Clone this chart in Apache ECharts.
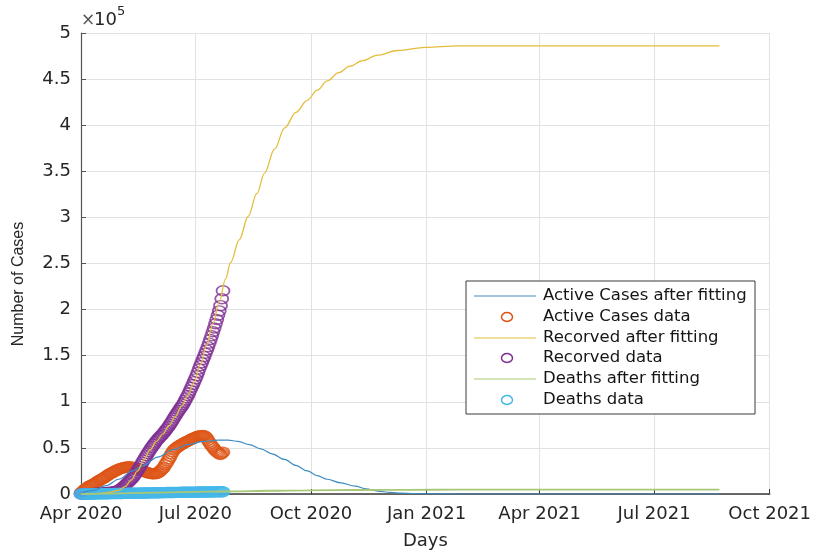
<!DOCTYPE html>
<html>
<head>
<meta charset="utf-8">
<script src="https://cdn.jsdelivr.net/npm/echarts@6/dist/echarts.min.js"></script>
<style>
  html, body { margin: 0; padding: 0; background: #fff; }
  #chart { width: 814px; height: 555px; }
</style>
</head>
<body>
<div id="chart"></div>
<script>
// Day 0 = 1 Apr 2020; x positions are days since that date.
const tickDays = [0, 91, 183, 275, 365, 456, 548];
const tickLabels = ['Apr 2020', 'Jul 2020', 'Oct 2020', 'Jan 2021', 'Apr 2021', 'Jul 2021', 'Oct 2021'];

// Daily observations, days 0..113
const activeData = [
  1000, 2200, 3500, 4800, 5800, 6600, 7800, 8800, 9400, 10100,
  10800, 11200, 12100, 13400, 14200, 15100, 15800, 16600, 17100, 18200,
  19200, 19800, 21100, 21900, 22600, 23200, 24100, 24700, 25600, 26200,
  26800, 27400, 27800, 28300, 28600, 29100, 28800, 29300, 29600, 29100,
  29400, 28900, 28500, 28000, 27600, 27100, 26800, 26200, 25900, 25200,
  24700, 24100, 23600, 23200, 22800, 22400, 22100, 21900, 22200, 21800,
  22400, 22900, 23600, 24800, 26200, 27600, 29100, 31800, 33600, 35900,
  38200, 40800, 43600, 45800, 47800, 49100, 50200, 51100, 52200, 52800,
  53800, 54600, 55300, 56100, 56600, 57400, 58100, 58900, 59600, 60200,
  60800, 61400, 62100, 62600, 62900, 63300, 62800, 63400, 63100, 62200,
  60400, 58300, 56200, 54100, 52100, 50600, 48900, 47200, 45800, 44700,
  43600, 42800, 44100, 45200
];
const recoveredData = [
  0, 100, 100, 200, 200, 300, 300, 400, 400, 500,
  500, 600, 700, 800, 900, 1000, 1100, 1200, 1300, 1400,
  1500, 1600, 1700, 1800, 2000, 2200, 2400, 2700, 3000, 3400,
  4000, 4800, 5800, 6800, 8000, 9200, 10600, 12000, 13300, 14800,
  16000, 17200, 19300, 21200, 23100, 25400, 27700, 29900, 32200, 34600,
  36800, 39200, 41500, 43800, 45800, 47900, 50000, 51900, 53800, 55600,
  57400, 59100, 60600, 62100, 63600, 64900, 66700, 68400, 70100, 71900,
  73800, 75800, 77900, 80100, 82400, 84600, 86700, 88900, 90900, 92900,
  94800, 96900, 99200, 101800, 104300, 106900, 109800, 112700, 115800, 118800,
  121900, 124900, 128300, 131800, 135600, 139100, 142400, 145800, 149200, 152700,
  156100, 159800, 163600, 167600, 171700, 175900, 180100, 184600, 189300, 193800,
  198600, 204300, 211800, 220500
];
const deathsData = [
  12, 18, 25, 31, 40, 50, 61, 73, 86, 98,
  112, 127, 143, 160, 176, 195, 214, 235, 255, 278,
  300, 322, 346, 370, 393, 418, 442, 468, 493, 520,
  546, 571, 598, 624, 651, 678, 703, 731, 758, 784,
  811, 838, 866, 892, 919, 946, 974, 1001, 1027, 1054,
  1080, 1108, 1135, 1161, 1188, 1214, 1241, 1267, 1293, 1320,
  1346, 1371, 1397, 1423, 1448, 1473, 1498, 1523, 1548, 1572,
  1596, 1621, 1645, 1669, 1692, 1716, 1739, 1762, 1785, 1808,
  1830, 1852, 1875, 1897, 1918, 1940, 1961, 1982, 2003, 2024,
  2044, 2065, 2085, 2105, 2124, 2144, 2163, 2182, 2201, 2220,
  2238, 2257, 2275, 2293, 2310, 2328, 2345, 2362, 2379, 2395,
  2412, 2428, 2444, 2460
];

// Fitted model curves (day, value)
const activeFitDays = [0, 10, 20, 30, 41, 49, 61, 73, 85, 97, 109, 117, 125, 134, 143, 152, 162, 171, 180, 188, 196, 207, 218, 227, 236, 246, 255, 265, 275, 300, 350, 508];
const activeFitVals = [1000, 4000, 9000, 16000, 25000, 30500, 40000, 48000, 53500, 57000, 58500, 58500, 57000, 53500, 49000, 43500, 37500, 31000, 25000, 20000, 16000, 12000, 8500, 5500, 3200, 1700, 900, 400, 150, 20, 0, 0];

const recoveredFitDays = [0, 10, 20, 30, 35, 40, 45, 50, 55, 60, 65, 70, 75, 80, 85, 90, 95, 100, 105, 110, 115, 119, 126, 133, 140, 146, 154, 162, 171, 180, 188, 196, 205, 214, 224, 236, 252, 274, 300, 350, 400, 508];
const recoveredFitVals = [0, 300, 1200, 4000, 8000, 15000, 25000, 37000, 48000, 57000, 65000, 74000, 84000, 95000, 107000, 121000, 140000, 162000, 185000, 208000, 233000, 251000, 276000, 301000, 326000, 348000, 374000, 397000, 414000, 427000, 438000, 448000, 457000, 464000, 470000, 476000, 481000, 484500, 486000, 486000, 486000, 486000];

const deathsFitDays = [0, 20, 40, 60, 80, 100, 120, 150, 180, 220, 260, 300, 400, 508];
const deathsFitVals = [50, 350, 900, 1500, 2000, 2500, 2950, 3500, 3950, 4350, 4550, 4650, 4700, 4700];

const seriesNames = [
  'Active Cases after fitting', 'Active Cases data',
  'Recorved after fitting', 'Recorved data',
  'Deaths after fitting', 'Deaths data'
];
const colors = {
  activeFit: '#3f8cc2', active: '#dd5516',
  recoveredFit: '#e4bd3c', recovered: '#7f2f91',
  deathsFit: '#a8c777', deaths: '#45b8ea'
};

const daily = arr => arr.map((v, i) => [i, v]);
const pairs = (xs, ys) => xs.map((x, i) => [x, ys[i]]);

const FONT = '"DejaVu Sans", Verdana, sans-serif';
const VFONT = '"Liberation Sans", Arial, sans-serif';
const TXT = '#262626';

function lineSeries(name, data, color, width) {
  return {
    name, type: 'line', data, showSymbol: false, symbol: 'none',
    smooth: 0.35, smoothMonotone: 'x',
    lineStyle: { color, width }, itemStyle: { color },
    silent: true
  };
}
function dotSeries(name, data, color) {
  return {
    name, type: 'scatter', data, symbol: 'circle', symbolSize: [13, 10],
    itemStyle: { color: 'rgba(0,0,0,0)', borderColor: color, borderWidth: 1.6 },
    silent: true
  };
}

// Legend box drawn as graphics
const legendX = 466, legendY = 281, legendW = 289, legendH = 133;
const rowY = [296, 317, 338, 358, 379, 400];
const legendKinds = [
  ['line', colors.activeFit], ['dot', colors.active],
  ['line', colors.recoveredFit], ['dot', colors.recovered],
  ['line', colors.deathsFit], ['dot', colors.deaths]
];
const legendGraphics = [{
  type: 'rect', shape: { x: legendX, y: legendY, width: legendW, height: legendH },
  style: { fill: '#fff', stroke: '#3a3a3a', lineWidth: 1 }, z: 100
}];
legendKinds.forEach(([kind, color], i) => {
  if (kind === 'line') {
    legendGraphics.push({
      type: 'line', shape: { x1: 474, y1: rowY[i], x2: 536, y2: rowY[i] },
      style: { stroke: color, lineWidth: 1.2 }, z: 101
    });
  } else {
    legendGraphics.push({
      type: 'ellipse', shape: { cx: 507, cy: rowY[i], rx: 5.5, ry: 4.5 },
      style: { fill: 'none', stroke: color, lineWidth: 1.5 }, z: 101
    });
  }
  legendGraphics.push({
    type: 'text', x: 543, y: rowY[i],
    style: { text: seriesNames[i], fill: '#151515', font: '16.5px ' + FONT, verticalAlign: 'middle' },
    z: 101
  });
});

const chart = echarts.init(document.getElementById('chart'), null, { renderer: 'canvas' });
chart.setOption({
  animation: false,
  backgroundColor: '#fff',
  grid: { left: 81, right: 44, top: 33, bottom: 60, containLabel: false },
  xAxis: {
    type: 'value', min: 0, max: 548,
    name: 'Days', nameLocation: 'middle', nameGap: 38,
    nameTextStyle: { color: TXT, fontSize: 18, fontFamily: FONT },
    axisLine: { show: true, lineStyle: { color: '#3a3a3a', width: 1.5 } },
    axisTick: { show: true, inside: true, length: 5, customValues: tickDays, lineStyle: { color: '#3a3a3a' } },
    axisLabel: {
      customValues: tickDays, color: TXT, fontSize: 18, fontFamily: FONT, margin: 11,
      showMinLabel: true, showMaxLabel: true,
      formatter: v => tickLabels[tickDays.indexOf(Math.round(v))] || ''
    },
    splitLine: { show: true, lineStyle: { color: '#e2e2e2', width: 1 } }
  },
  yAxis: {
    type: 'value', min: 0, max: 500000, interval: 50000,
    axisLine: { show: true, lineStyle: { color: '#555', width: 1.2 } },
    axisTick: { show: true, inside: true, length: 5, lineStyle: { color: '#555' } },
    axisLabel: {
      color: TXT, fontSize: 18, fontFamily: FONT, margin: 10,
      formatter: v => String(Math.round(v / 5000) / 20)
    },
    splitLine: { show: true, lineStyle: { color: '#e2e2e2', width: 1 } }
  },
  graphic: [
    { type: 'text', x: 81, y: 12, style: { text: '×', fill: '#555', font: '17px ' + FONT }, z: 50 },
    { type: 'text', x: 94, y: 11, style: { text: '10', fill: TXT, font: '18px ' + FONT }, z: 50 },
    { type: 'text', x: 117, y: 5, style: { text: '5', fill: TXT, font: '13px ' + FONT }, z: 50 },
    // y-axis title
    { type: 'text', x: 19, y: 284, rotation: Math.PI / 2,
      style: { text: 'Number of Cases', fill: TXT, font: '16px ' + VFONT, align: 'center', verticalAlign: 'middle' }, z: 50 }
  ].concat(legendGraphics),
  series: [
    lineSeries(seriesNames[0], pairs(activeFitDays, activeFitVals), colors.activeFit, 1.2),
    dotSeries(seriesNames[1], daily(activeData), colors.active),
    lineSeries(seriesNames[2], pairs(recoveredFitDays, recoveredFitVals), colors.recoveredFit, 1.3),
    dotSeries(seriesNames[3], daily(recoveredData), colors.recovered),
    lineSeries(seriesNames[4], pairs(deathsFitDays, deathsFitVals), colors.deathsFit, 1.8),
    dotSeries(seriesNames[5], daily(deathsData), colors.deaths)
  ]
});
</script>
</body>
</html>
